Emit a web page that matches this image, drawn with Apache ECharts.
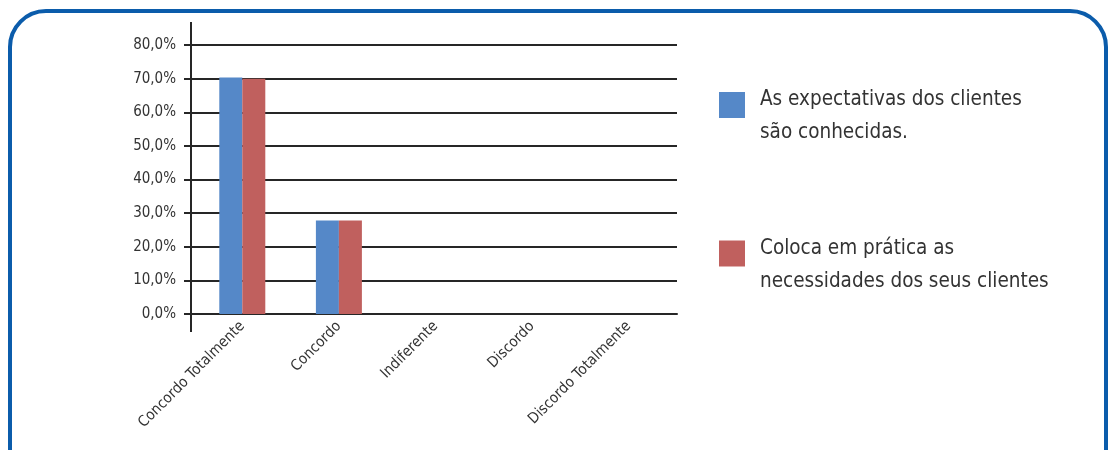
<!DOCTYPE html>
<html>
<head>
<meta charset="utf-8">
<script src="https://cdn.jsdelivr.net/npm/echarts@6/dist/echarts.min.js"></script>
<style>
  html, body { margin: 0; padding: 0; background: #ffffff; }
  #chart { width: 1111px; height: 450px; }
</style>
</head>
<body>
<div id="chart"></div>
<script>
// Survey answers (percent of respondents)
const categories = ['Concordo Totalmente', 'Concordo', 'Indiferente', 'Discordo', 'Discordo Totalmente'];
const seriesNames = [
  'As expectativas dos clientes\nsão conhecidas.',
  'Coloca em prática as\nnecessidades dos seus clientes'
];
const expectativas = [70.3, 27.8, 0, 0, 0];
const pratica = [70.0, 27.8, 0, 0, 0];
const yTicks = [0, 10, 20, 30, 40, 50, 60, 70, 80];

const FONT = "'DejaVu Sans Condensed', 'Liberation Sans', sans-serif";
const INK = '#262626';
const TEXT = '#333333';
const BLUE = '#5588c8';
const RED = '#c0605e';

const chart = echarts.init(document.getElementById('chart'), null, { renderer: 'canvas' });

// Legend labels: a short spacer line on top so the first text line sits beside the swatch
const legendLabel = name => '{s| }\n' + name.split('\n').map(l => '{t|' + l + '}').join('\n');

const option = {
  animation: false,
  backgroundColor: '#ffffff',
  textStyle: { fontFamily: FONT },
  grid: { left: 194, right: 434, top: 45, bottom: 136, containLabel: false },
  legend: {
    orient: 'vertical',
    left: 719,
    top: 67,
    padding: 0,
    itemWidth: 26,
    itemHeight: 26,
    itemGap: 72,
    icon: 'rect',
    selectedMode: false,
    data: seriesNames,
    formatter: legendLabel,
    textStyle: {
      fontFamily: FONT,
      color: TEXT,
      padding: [0, 0, 0, 10],
      rich: {
        s: { fontSize: 10, lineHeight: 23, fontFamily: FONT },
        t: { fontSize: 20.5, lineHeight: 33, fontFamily: FONT, color: TEXT }
      }
    }
  },
  xAxis: {
    type: 'category',
    data: categories,
    axisLine: { show: true, lineStyle: { color: INK, width: 2 } },
    axisTick: { show: false },
    axisLabel: {
      rotate: 45,
      interval: 0,
      margin: 10,
      fontFamily: FONT,
      fontSize: 15,
      color: TEXT
    }
  },
  yAxis: {
    type: 'value',
    min: yTicks[0],
    max: yTicks[yTicks.length - 1],
    interval: 10,
    axisLine: { show: false },
    axisTick: { show: true, length: 10, lineStyle: { color: INK, width: 2 } },
    splitLine: { show: true, lineStyle: { color: INK, width: 2 } },
    axisLabel: {
      margin: 18,
      fontFamily: FONT,
      fontSize: 15,
      color: TEXT,
      formatter: v => v.toFixed(1).replace('.', ',') + '%'
    }
  },
  series: [
    {
      name: seriesNames[0],
      type: 'bar',
      data: expectativas,
      itemStyle: { color: BLUE },
      barWidth: 23,
      barGap: '0%'
    },
    {
      name: seriesNames[1],
      type: 'bar',
      data: pratica,
      itemStyle: { color: RED },
      barWidth: 23,
      barGap: '0%'
    }
  ]
};

chart.setOption(option);

// Frame around the figure and the vertical value axis line running past the plot
const c0 = chart.convertToPixel({ xAxisIndex: 0 }, 0);
const c1 = chart.convertToPixel({ xAxisIndex: 0 }, 1);
const plotLeft = c0 - (c1 - c0) / 2;
const zeroY = chart.convertToPixel({ yAxisIndex: 0 }, 0);
const axisX = plotLeft - 3;
chart.setOption({
  graphic: [
    {
      type: 'rect',
      shape: { x: 10, y: 11, width: 1096, height: 480, r: 36 },
      style: { fill: 'none', stroke: '#0b5cab', lineWidth: 4 },
      z: 100
    },
    {
      type: 'line',
      shape: { x1: axisX, y1: 22, x2: axisX, y2: zeroY + 18 },
      style: { stroke: INK, lineWidth: 2 },
      z: 100
    }
  ]
});
</script>
</body>
</html>
